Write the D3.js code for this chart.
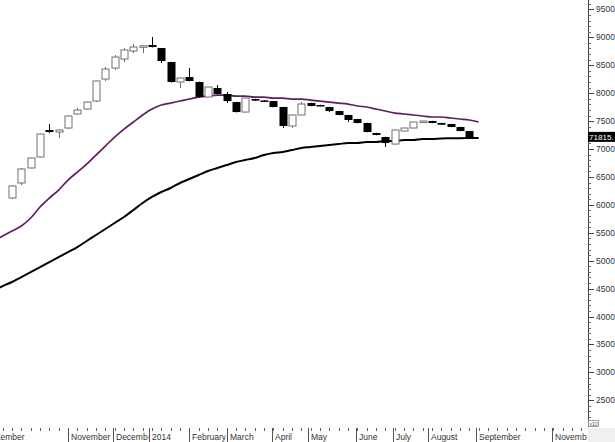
<!DOCTYPE html>
<html><head><meta charset="utf-8">
<script src="https://cdn.jsdelivr.net/npm/d3@7"></script>
<style>html,body{margin:0;padding:0;background:#fff;overflow:hidden}</style>
</head><body>
<svg id="c" width="615" height="442"></svg>
<script>
// Weekly bar dates (first two are before the first candle; used by the moving averages)
const weeks = ["2013-09-06","2013-09-13","2013-09-20","2013-09-27","2013-10-04","2013-10-11","2013-10-18","2013-10-25",
"2013-11-01","2013-11-08","2013-11-15","2013-11-22","2013-11-29","2013-12-06","2013-12-13","2013-12-20","2013-12-27",
"2014-01-03","2014-01-10","2014-01-17","2014-01-24","2014-01-31","2014-02-07","2014-02-14","2014-02-21","2014-02-28",
"2014-03-07","2014-03-14","2014-03-21","2014-03-28","2014-04-04","2014-04-11","2014-04-18","2014-04-25",
"2014-05-02","2014-05-09","2014-05-16","2014-05-23","2014-05-30","2014-06-06","2014-06-13","2014-06-20","2014-06-27",
"2014-07-04","2014-07-11","2014-07-18","2014-07-25","2014-08-01","2014-08-08","2014-08-15","2014-08-22","2014-08-29","2014-09-05"];
const candleDates = weeks.slice(2, 52);
const open  = [6123,6392,6660,6857,7340,7304,7376,7627,7716,7859,8253,8450,8611,8755,8840,8862,8808,8558,8200,8289,
               8200,7931,8092,7985,7841,7662,7895,7870,7859,7752,7412,7609,7824,7788,7752,7680,7609,7537,7466,7286,
               7215,7089,7322,7376,7483,7501,7466,7448,7394,7322];
const high  = [6350,6660,6845,7275,7448,7350,7600,7734,7850,8225,8468,8683,8808,8880,8855,9005,8810,8560,8280,8450,
               8205,8115,8146,8021,7845,7920,7900,7875,7862,7755,7615,7841,7830,7792,7755,7685,7612,7540,7470,7290,
               7220,7345,7380,7488,7505,7505,7468,7450,7398,7325];
const low   = [6105,6356,6655,6850,7286,7197,7358,7620,7710,7841,8218,8415,8558,8719,8719,8820,8540,8190,8092,8210,
               7925,7925,7980,7824,7655,7655,7860,7841,7745,7376,7376,7605,7765,7768,7662,7605,7483,7460,7300,7245,
               7036,7080,7318,7372,7480,7462,7430,7390,7318,7210];
const close = [6338,6642,6839,7268,7304,7340,7591,7698,7841,8218,8432,8647,8773,8826,8848,8826,8576,8200,8271,8218,
               7931,8110,7985,7859,7662,7913,7866,7859,7752,7412,7609,7806,7770,7772,7680,7609,7519,7466,7304,7251,
               7107,7340,7376,7483,7501,7466,7435,7394,7322,7215];
const maPurple = [5353,5442,5532,5621,5764,5961,6122,6265,6444,6587,6731,6892,7053,7214,7357,7483,7608,7715,7787,7823,
                  7859,7895,7930,7948,7966,7966,7948,7948,7930,7930,7912,7912,7895,7895,7877,7859,7841,7823,7805,7770,
                  7752,7716,7680,7644,7627,7609,7591,7573,7573,7555,7537,7519,7483];
const maBlack  = [4457,4546,4618,4707,4797,4886,4976,5065,5155,5244,5353,5460,5568,5675,5783,5908,6033,6141,6230,6302,
                  6391,6463,6534,6606,6660,6713,6767,6803,6839,6892,6928,6946,6982,7017,7035,7053,7071,7089,7107,7107,
                  7125,7125,7143,7143,7161,7161,7179,7179,7190,7192,7194,7195,7195];
const yTickValues = [2500,3000,3500,4000,4500,5000,5500,6000,6500,7000,7500,8000,8500,9000,9500];
const monthTickDates  = ["2013-08-27","2013-11-01","2013-12-05","2014-01-01","2014-01-31","2014-02-28","2014-04-03",
                         "2014-04-30","2014-06-05","2014-07-03","2014-07-29","2014-09-03","2014-10-30"];
const monthTickLabels = ["September","November","December","2014","February","March","April",
                         "May","June","July","August","September","November"];
const lastLabel = "71815.";
const lastValue = 7181.5;
const scaleNote = "x10";

const W = 615, H = 442, axisX = 588, axisTop = 427;
const parse = d3.utcParse("%Y-%m-%d");
const svg = d3.select("#c");
const x = d3.scaleUtc().domain([parse("2013-09-20"), parse("2014-09-19")]).range([12, 12 + 364 * 4 / 3]);
const y = d3.scaleLinear().domain([2500, 9500]).range([400.3, 9.4]);

svg.append("defs").append("clipPath").attr("id", "plot")
  .append("rect").attr("x", 0).attr("y", 0).attr("width", axisX).attr("height", axisTop);

const plot = svg.append("g").attr("clip-path", "url(#plot)");

// moving averages
const line = d3.line().x((d, i) => x(parse(weeks[i]))).y(d => y(d)).curve(d3.curveMonotoneX);
plot.append("path").datum(maBlack).attr("d", line).attr("fill", "none").attr("stroke", "#000").attr("stroke-width", 2);
plot.append("path").datum(maPurple).attr("d", line).attr("fill", "none").attr("stroke", "#5e1f5e").attr("stroke-width", 1.7);

// candles
const bw = 7;
const cg = plot.selectAll("g.c").data(candleDates.map((d, i) => ({d: parse(d), o: open[i], h: high[i], l: low[i], c: close[i]})))
  .enter().append("g");
cg.each(function(d) {
  const g = d3.select(this);
  const cx = Math.round(x(d.d)) + 0.5;
  const up = d.c >= d.o;
  const col = up ? "#707070" : "#000";
  g.append("line").attr("x1", cx).attr("x2", cx).attr("y1", y(d.h)).attr("y2", y(d.l)).attr("stroke", col).attr("stroke-width", 1);
  const top = y(Math.max(d.o, d.c)), bot = y(Math.min(d.o, d.c));
  const hgt = Math.max(bot - top, 1.5);
  if (up) {
    g.append("rect").attr("x", cx - bw / 2).attr("y", top).attr("width", bw).attr("height", hgt)
      .attr("fill", "#fff").attr("stroke", col).attr("stroke-width", 1);
  } else {
    g.append("rect").attr("x", cx - bw / 2 - 0.5).attr("y", top).attr("width", bw + 1).attr("height", hgt).attr("fill", "#000");
  }
});

// right axis
const ax = svg.append("g");
ax.append("line").attr("x1", axisX + 0.5).attr("x2", axisX + 0.5).attr("y1", 0).attr("y2", axisTop).attr("stroke", "#444");
const minor = d3.range(2200, 9700, 100).filter(v => v % 500 !== 0);
ax.selectAll("line.mn").data(minor).enter().append("line")
  .attr("x1", axisX).attr("x2", axisX + 3).attr("y1", d => Math.round(y(d)) + 0.5).attr("y2", d => Math.round(y(d)) + 0.5)
  .attr("stroke", "#666");
ax.selectAll("line.mj").data(yTickValues).enter().append("line")
  .attr("x1", axisX).attr("x2", axisX + 6).attr("y1", d => Math.round(y(d)) + 0.5).attr("y2", d => Math.round(y(d)) + 0.5)
  .attr("stroke", "#444");
ax.selectAll("text.yl").data(yTickValues).enter().append("text")
  .attr("x", 596).attr("y", d => y(d) + 3).text(d => d)
  .attr("font-family", "Liberation Sans, Arial, sans-serif").attr("font-size", 8.5).attr("fill", "#333");

// last value marker
const ly = y(lastValue) - 2;
ax.append("rect").attr("x", axisX).attr("y", ly - 5).attr("width", W - axisX).attr("height", 10).attr("fill", "#000");
ax.append("text").attr("x", axisX + 1).attr("y", ly + 3).text(lastLabel)
  .attr("font-family", "Liberation Sans, Arial, sans-serif").attr("font-size", 8.1).attr("fill", "#fff");

// x10 note & corner
svg.append("rect").attr("x", axisX).attr("y", axisTop + 1).attr("width", W - axisX).attr("height", H - axisTop).attr("fill", "#f0f0f0");
svg.append("rect").attr("x", axisX + 0.5).attr("y", 420.5).attr("width", 10).attr("height", 6).attr("fill", "#fff").attr("stroke", "#888").attr("stroke-width", 0.8);
svg.append("text").attr("x", axisX + 1.5).attr("y", 425.5).text(scaleNote)
  .attr("font-family", "Liberation Sans, Arial, sans-serif").attr("font-size", 5).attr("fill", "#555");

// bottom axis
const bx = svg.append("g");
const wk = d3.utcDay.range(parse("2013-08-09"), parse("2014-12-31")).filter((d, i) => i % 7 === 0);
bx.selectAll("line.w").data(wk).enter().append("line")
  .attr("x1", d => Math.round(x(d)) + 0.5).attr("x2", d => Math.round(x(d)) + 0.5)
  .attr("y1", axisTop + 1).attr("y2", axisTop + 4).attr("stroke", "#666")
  .style("display", d => x(d) > axisX ? "none" : null);
const mt = monthTickDates.map((d, i) => ({x: x(parse(d)), label: monthTickLabels[i]}));
const defs = svg.select("defs");
mt.forEach((m, i) => {
  const nx = i < mt.length - 1 ? mt[i + 1].x : axisX;
  const px = Math.round(m.x) + 0.5;
  defs.append("clipPath").attr("id", "lb" + i).append("rect")
    .attr("x", Math.max(px, 0)).attr("y", axisTop).attr("width", Math.max(0, Math.min(nx, axisX) - Math.max(px, 0) - 1)).attr("height", H - axisTop);
  bx.append("line").attr("x1", px).attr("x2", px).attr("y1", axisTop + 1).attr("y2", H).attr("stroke", "#555");
  bx.append("text").attr("x", px + 2.5).attr("y", 439.5).text(m.label).attr("clip-path", "url(#lb" + i + ")")
    .attr("font-family", "Liberation Sans, Arial, sans-serif").attr("font-size", 8.5).attr("fill", "#333");
});
</script>
</body></html>
